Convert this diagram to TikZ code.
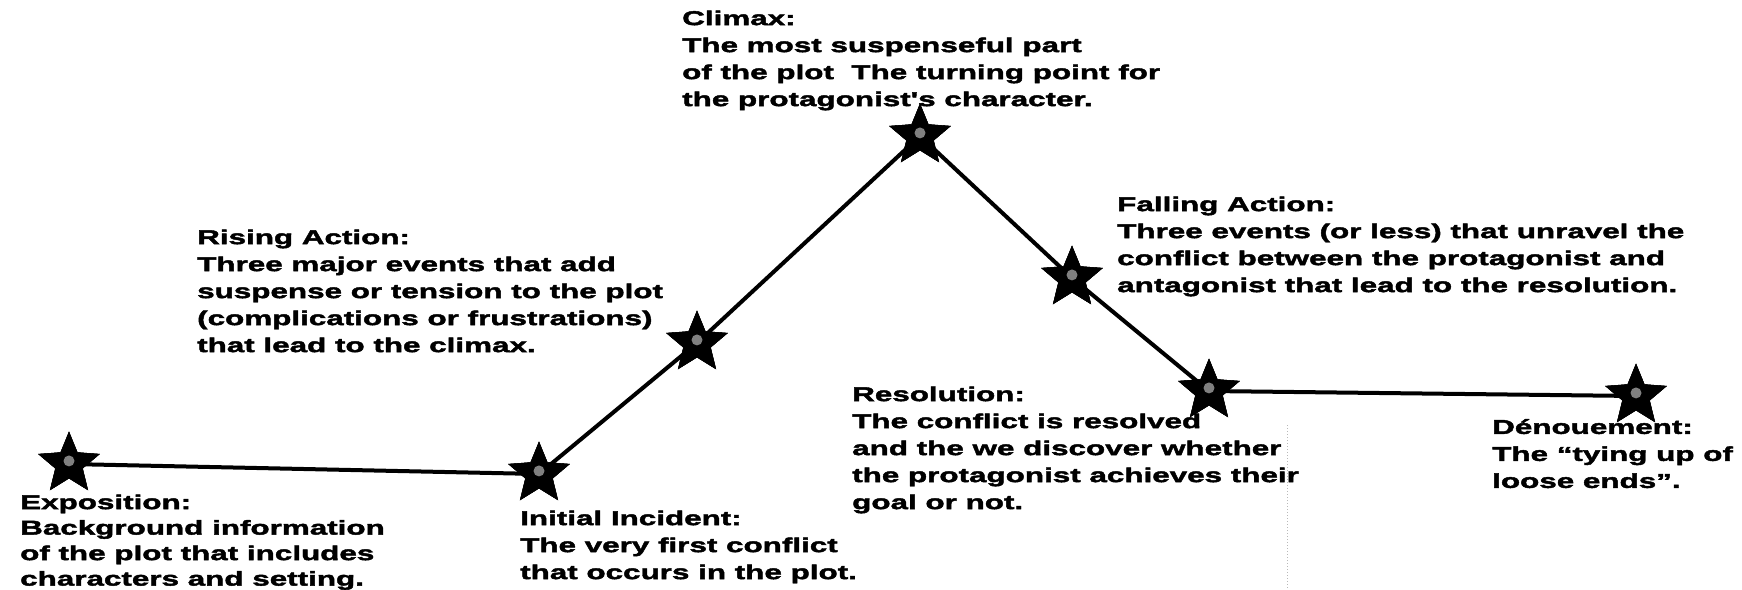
\documentclass[tikz,border=0pt]{standalone}
\usepackage{fontspec}
\newfontfamily\plotfont{Liberation Sans Bold}[FakeStretch=1.57, FakeBold=2.2]
\usetikzlibrary{shapes.geometric,calc}
\begin{document}
\spaceskip=5pt plus 1pt\relax
\begin{tikzpicture}[x=1pt,y=-1pt,
  plotstar/.style={star, star points=5, star point ratio=2.25, fill=black, draw=black,
    minimum size=64pt, inner sep=0pt,
    path picture={\fill[black!50] (path picture bounding box.center) circle (5.5pt);}},
  plotline/.style={line width=4pt, black, line join=round},
  txt/.style={anchor=north west, align=left, inner sep=0pt,
    font=\plotfont\fontsize{20}{27}\selectfont},
  txttight/.style={txt, font=\plotfont\fontsize{20}{25.5}\selectfont}
]
\useasboundingbox (0,0) rectangle (1742,589);
% stars on the plot line
\node[plotstar] (sE) at (69,464) {};
\node[plotstar] (sI) at (539,474) {};
\node[plotstar] (sR) at (697,343) {};
\node[plotstar] (sC) at (920,136) {};
\node[plotstar] (sF) at (1072,278) {};
\node[plotstar] (sS) at (1209,391) {};
\node[plotstar] (sD) at (1636,396) {};
\draw[plotline] (sE.center) -- (sI.center) -- (sR.center) -- (sC.center) -- (sF.center) -- (sS.center) -- (sD.center);
% redraw stars above the line
\foreach \s in {sE,sI,sR,sC,sF,sS,sD}{
  \node[plotstar] at (\s.center) {};
}
% faint scan mark
\coordinate (m1) at (1287,425);
\coordinate (m2) at (1287,589);
\draw[gray!55, dotted, line width=1pt] (m1) -- (m2);
% texts (y = first baseline - 14.6)
\node[txt] (tC) at (682,10.4) {Climax:\\The most suspenseful part\\of the plot\ \ The turning point for\\the protagonist's character.};
\node[txt] (tR) at (197,229.4) {Rising Action:\\Three major events that add\\suspense or tension to the plot\\(complications or frustrations)\\that lead to the climax.};
\node[txt] (tF) at (1117,196.4) {Falling Action:\\Three events (or less) that unravel the\\conflict between the protagonist and\\antagonist that lead to the resolution.};
\node[txt] (tS) at (852,386.4) {Resolution:\\The conflict is resolved\\and the we discover whether\\the protagonist achieves their\\goal or not.};
\node[txt] (tD) at (1492,419) {Dénouement:\\The “tying up of\\loose ends”.};
\node[txt] (tI) at (520,510.4) {Initial Incident:\\The very first conflict\\that occurs in the plot.};
\node[txttight] (tE) at (20,494.4) {Exposition:\\Background information\\of the plot that includes\\characters and setting.};
\end{tikzpicture}
\end{document}
